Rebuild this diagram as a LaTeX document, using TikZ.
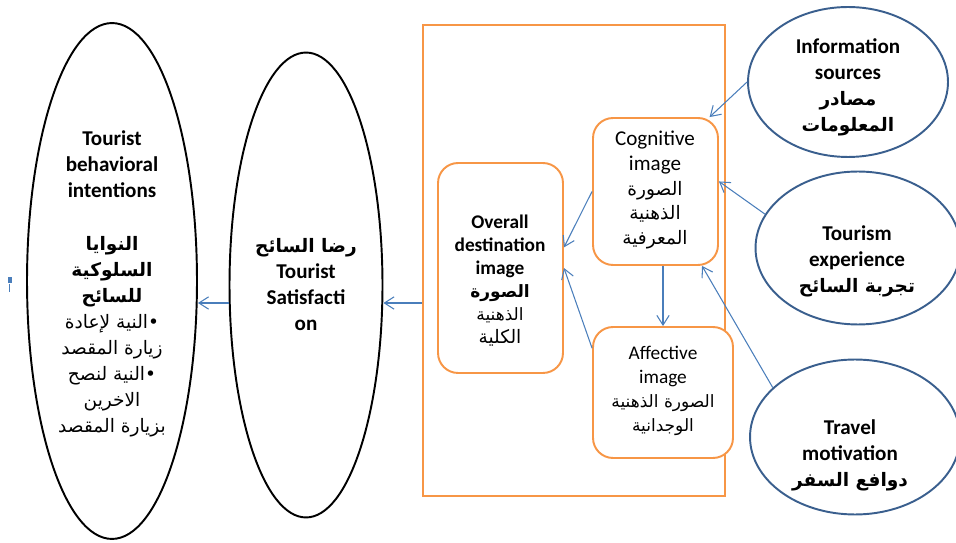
\documentclass[tikz,border=0pt]{standalone}
\usepackage{fontspec}
\setmainfont{Carlito}
\newfontfamily\arabicfont[Script=Arabic,Scale=0.88]{DejaVu Sans}
\TeXXeTstate=1
\usepackage{tikz}
\usetikzlibrary{arrows.meta}
\usetikzlibrary{shapes.geometric}
\usepackage{xcolor}
\definecolor{boxorange}{HTML}{F79646}
\definecolor{ovalblue}{HTML}{3A5F8E}
\definecolor{linkblue}{HTML}{4A7EBB}
\newcommand{\artxt}[1]{{\arabicfont\beginR #1\endR}}

\begin{document}
\begin{tikzpicture}[x=0.02cm, y=-0.02cm,
    bigoval/.style={ellipse, draw=black, line width=1.1pt, inner sep=0pt},
    srcoval/.style={ellipse, draw=ovalblue, line width=1.1pt, inner sep=0pt},
    imgbox/.style={draw=boxorange, rounded corners=0.4cm, line width=1.1pt, fill=white, inner sep=0pt},
    txt/.style={align=center, font=\fontsize{12}{14.8}\selectfont\bfseries},
    link/.style={draw=linkblue, line width=0.6pt, ->, >={Straight Barb[length=5.5pt,width=7pt]}}]
    \useasboundingbox (0,0) rectangle (956,543);
    % outcome ellipses
    \node[bigoval, minimum width=3.4cm, minimum height=10.32cm] (behav) at (112,281) {};
    \node[bigoval, minimum width=3.06cm, minimum height=9.3cm] (satis) at (306,285) {};
    \node[txt] (behavtxt) at (112,284) {Tourist\\ behavioral\\ intentions\\[15pt]
        \artxt{النوايا}\\ \artxt{السلوكية}\\ \artxt{للسائح}\\
        \mdseries\artxt{•النية لإعادة}\\ \mdseries\artxt{زيارة المقصد}\\ \mdseries\artxt{•النية لنصح}\\
        \mdseries\artxt{الاخرين}\\ \mdseries\artxt{بزيارة المقصد}};
    \node[txt] (satistxt) at (306,285) {\artxt{رضا السائح}\\ Tourist\\ Satisfacti\\ on};
    % destination image frame
    \node[draw=boxorange, line width=1.1pt, minimum width=6.04cm, minimum height=9.42cm] (frame) at (574,260.5) {};
    \node[imgbox, minimum width=2.5cm, minimum height=4.2cm] (overall) at (500.5,268) {};
    \node[imgbox, minimum width=2.5cm, minimum height=2.94cm] (cogn) at (655.5,191.5) {};
    \node[imgbox, minimum width=2.8cm, minimum height=2.62cm] (affect) at (663,392.5) {};
    \node[txt, font=\fontsize{11}{13.1}\selectfont\bfseries] (overalltxt) at (500,281) {Overall\\ destination\\ image\\
        \artxt{الصورة}\\ \mdseries\artxt{الذهنية}\\ \mdseries\large\artxt{الكلية}};
    \node[txt, font=\fontsize{12}{14.2}\selectfont] (cogntxt) at (655,190) {Cognitive\\ image\\
        \artxt{الصورة}\\ \artxt{الذهنية}\\ \artxt{المعرفية}};
    \node[txt, font=\fontsize{11}{13.7}\selectfont] (affecttxt) at (663,391) {Affective\\ image\\
        \artxt{الصورة الذهنية}\\ \artxt{الوجدانية}};
    % antecedent ellipses
    \node[srcoval, minimum width=4cm, minimum height=3cm] (info) at (848,82) {};
    \node[srcoval, minimum width=4.1cm, minimum height=3.06cm] (exper) at (858,248) {};
    \node[srcoval, minimum width=4.2cm, minimum height=3.1cm] (travel) at (855,437) {};
    \node[txt] (infotxt) at (848,87) {Information\\ sources\\ \artxt{مصادر}\\ \artxt{المعلومات}};
    \node[txt] (expertxt) at (857,261) {Tourism\\ experience\\ \artxt{تجربة السائح}};
    \node[txt] (traveltxt) at (850,455) {Travel\\ motivation\\ \artxt{دوافع السفر}};
    % stray mark
    \fill[linkblue] (8,277) rectangle (12,283);
    \draw[linkblue, line width=0.3pt] (9,284) -- (9,292);
    % links
    \coordinate (lvl) at (0,303);
    \draw[link] (info.west) -- (cogn.54);
    \draw[link] (exper.160) -- (cogn.9);
    \draw[link] (travel.149) -- (cogn.302);
    \draw[link] (cogn.south -| affect) -- (affect.north);
    \draw[link] (cogn.west) -- (overall.18);
    \draw[link] (affect.148) -- (overall.east);
    \draw[link] (frame.west |- lvl) -- (satis.east |- lvl);
    \draw[link] (satis.west |- lvl) -- (behav.east |- lvl);
\end{tikzpicture}
\end{document}
